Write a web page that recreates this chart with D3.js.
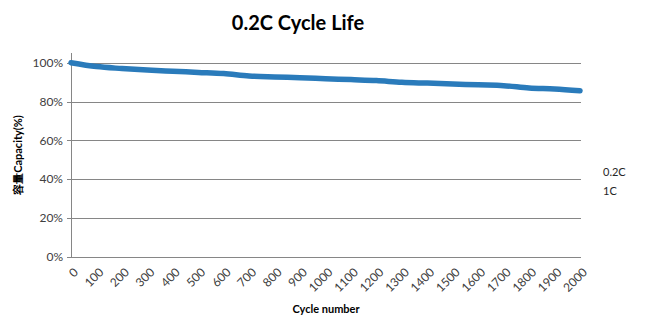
<!DOCTYPE html>
<html>
<head>
<meta charset="utf-8">
<script src="https://cdn.jsdelivr.net/npm/d3@7"></script>
<style>
  body { margin: 0; background: #fff; }
  text { font-family: Lato, "Open Sans", sans-serif; }
  .tick-label { font-size: 12px; fill: #404040; }
</style>
</head>
<body>
<svg id="chart"></svg>
<script>
// cycle numbers and capacity retention (%)
const cycles = [0, 100, 200, 300, 400, 500, 600, 700, 800, 900, 1000,
                1100, 1200, 1300, 1400, 1500, 1600, 1700, 1800, 1900, 2000];
const capacity = [100, 98.0, 97.0, 96.2, 95.6, 95.0, 94.4, 93.2, 92.7, 92.3, 91.8,
                  91.3, 90.8, 89.9, 89.5, 89.1, 88.6, 88.2, 87.0, 86.5, 85.6];
const yTicks = [0, 20, 40, 60, 80, 100];
const legendLabels = ['0.2C', '1C'];

const width = 645, height = 327;
const margin = {top: 53, right: 64, bottom: 70, left: 71};
const innerW = width - margin.left - margin.right;
const innerH = height - margin.top - margin.bottom;

const svg = d3.select('#chart')
    .attr('width', width)
    .attr('height', height);

const chart = svg.append('g')
    .attr('transform', `translate(${margin.left}, ${margin.top})`);

const xScale = d3.scaleLinear().domain([0, 2000]).range([0, innerW - 1]);
const yScale = d3.scaleLinear().domain([0, 105]).range([innerH, 0]);

// gridlines
chart.selectAll('.grid')
    .data(yTicks)
  .join('line')
    .attr('class', 'grid')
    .attr('x1', -4)
    .attr('x2', innerW)
    .attr('y1', d => Math.round(yScale(d)) + 0.5)
    .attr('y2', d => Math.round(yScale(d)) + 0.5)
    .attr('stroke', '#868686')
    .attr('stroke-width', 1);

// y axis line
chart.append('line')
    .attr('x1', 0.5).attr('x2', 0.5)
    .attr('y1', 0).attr('y2', innerH)
    .attr('stroke', '#868686');

// y tick labels
chart.selectAll('.ylab')
    .data(yTicks)
  .join('text')
    .attr('class', 'tick-label')
    .attr('x', -8)
    .attr('y', d => yScale(d))
    .attr('dy', '0.35em')
    .attr('text-anchor', 'end')
    .text(d => d + '%');

// x tick labels, rotated
chart.selectAll('.xlab')
    .data(cycles)
  .join('text')
    .attr('class', 'tick-label')
    .attr('text-anchor', 'end')
    .attr('transform', d => `translate(${xScale(d) + 5}, ${innerH + 13}) rotate(-45)`)
    .attr('dy', '0.35em')
    .text(d => d);

// the curve
const line = d3.line()
    .x((d, i) => xScale(cycles[i]))
    .y(d => yScale(d))
    .curve(d3.curveMonotoneX);

chart.append('path')
    .datum(capacity)
    .attr('fill', 'none')
    .attr('stroke', '#2a7bbb')
    .attr('stroke-width', 5.5)
    .attr('stroke-linecap', 'round')
    .attr('d', line);

// title
svg.append('text')
    .attr('x', 298)
    .attr('y', 30)
    .attr('text-anchor', 'middle')
    .style('font-size', '20px')
    .style('font-weight', 'bold')
    .text('0.2C Cycle Life');

// x axis label
svg.append('text')
    .attr('x', 326)
    .attr('y', 313)
    .attr('text-anchor', 'middle')
    .style('font-size', '11px')
    .style('font-weight', 'bold')
    .text('Cycle number');

// y axis label
svg.append('text')
    .attr('transform', 'translate(22, 155) rotate(-90)')
    .attr('text-anchor', 'middle')
    .style('font-size', '11px')
    .style('font-weight', 'bold')
    .text('容量Capacity(%)');

// legend (text only)
svg.selectAll('.legend')
    .data(legendLabels)
  .join('text')
    .attr('x', 603)
    .attr('y', (d, i) => 176 + i * 19)
    .style('font-size', '11px')
    .style('fill', '#262626')
    .text(d => d);
</script>
</body>
</html>
